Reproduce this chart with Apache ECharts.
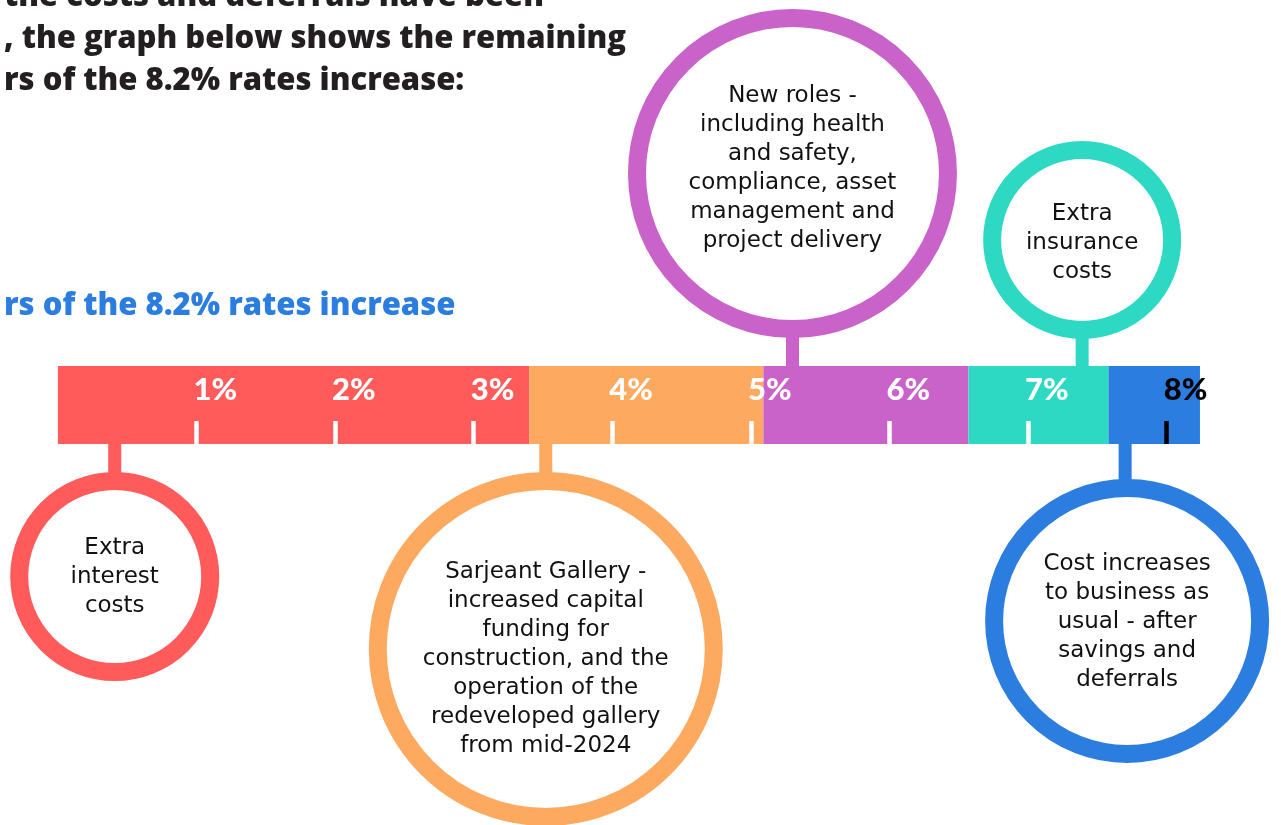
<!DOCTYPE html>
<html>
<head>
<meta charset="utf-8">
<script src="https://cdn.jsdelivr.net/npm/echarts@6/dist/echarts.min.js"></script>
<style>
html,body{margin:0;padding:0;background:#fff;}
#c{width:1281px;height:825px;}
</style>
</head>
<body>
<div id="c"></div>
<script>
// ---- data ----
const titleLines = ['the costs and deferrals have been', ', the graph below shows the remaining', 'rs of the 8.2% rates increase:'];
const subtitle = 'rs of the 8.2% rates increase';
const categories = ['Extra interest costs', 'Sarjeant Gallery', 'New roles', 'Extra insurance costs', 'Cost increases to business as usual'];
const values = [3.4, 1.69, 1.48, 1.01, 0.66];
const tickValues = [1, 2, 3, 4, 5, 6, 7, 8];
const tickLabels = ['1%', '2%', '3%', '4%', '5%', '6%', '7%', '8%'];
const circleTexts = [
  'Extra\ninterest\ncosts',
  'Sarjeant Gallery -\nincreased capital\nfunding for\nconstruction, and the\noperation of the\nredeveloped gallery\nfrom mid-2024',
  'New roles -\nincluding health\nand safety,\ncompliance, asset\nmanagement and\nproject delivery',
  'Extra\ninsurance\ncosts',
  'Cost increases\nto business as\nusual - after\nsavings and\ndeferrals'
];

// ---- styles / layout ----
const colors = ['#FF5B5B', '#FDAA60', '#C962C9', '#2ED9C3', '#2B7DE0'];
const PX_PER = 138.6;
const AXIS_MAX = 8.24;
const GRID = { left: 57.9, top: 366, height: 78 };
// anchor: value on the % scale where the connector sits
const ann = [
  { anchor: 0.41, side: 1, gap: 28, r: 104.5, dx: 0, ty: 1 },
  { anchor: 3.52, side: 1, gap: 28, r: 177, dx: 0, ty: 10 },
  { anchor: 5.30, side: -1, gap: 28, r: 164.5, dx: 0, ty: -5 },
  { anchor: 7.39, side: -1, gap: 27, r: 99, dx: 0, ty: 3 },
  { anchor: 7.70, side: 1, gap: 35, r: 142, dx: 2, ty: 1.5 }
];
const RING = 18;
const tickFont = 'Lato';
const headFont = '"Open Sans"';
const bodyFont = '"DejaVu Sans"';

const chart = echarts.init(document.getElementById('c'));

const tickIdxWhite = tickValues.slice(0, 7);
const tickIdxBlack = tickValues.slice(7);
const labelFor = v => tickLabels[tickValues.indexOf(v)] || '';

function mkAxis(vals, color) {
  return {
    type: 'value', min: 0, max: AXIS_MAX, interval: 1, position: 'bottom', z: 10,
    axisLine: { show: false }, splitLine: { show: false },
    axisTick: { show: true, inside: true, length: 23, customValues: vals, lineStyle: { color: color, width: 4.5 } },
    axisLabel: {
      show: true, inside: true, customValues: vals, margin: 54, verticalAlign: 'middle', align: 'left',
      padding: [0, 0, 0, -3],
      formatter: v => labelFor(v), color: color,
      fontFamily: tickFont, fontWeight: 900, fontSize: 31
    }
  };
}

const option = {
  animation: false,
  backgroundColor: '#fff',
  title: [
    { text: titleLines.join('\n'), left: -1, top: -29,
      textStyle: { fontFamily: headFont, fontWeight: 800, fontSize: 31, lineHeight: 42, color: '#231F20' } },
    { text: subtitle, left: -1, top: 286,
      textStyle: { fontFamily: headFont, fontWeight: 800, fontSize: 31, color: '#2B7DE0' } }
  ],
  grid: { left: GRID.left, top: GRID.top, height: GRID.height, width: AXIS_MAX * PX_PER },
  xAxis: [mkAxis(tickIdxWhite, '#FFFFFF'), mkAxis(tickIdxBlack, '#000000')],
  yAxis: { type: 'category', data: ['rates'], show: false },
  series: categories.map((name, i) => ({
    name: name, type: 'bar', stack: 'total', barWidth: '100%',
    data: [values[i]], itemStyle: { color: colors[i] }, z: 2
  }))
};
chart.setOption(option);

// annotation circles, anchored through the axis scale
const barTop = GRID.top, barBot = GRID.top + GRID.height;
const graphics = [];
ann.forEach((a, i) => {
  const x = chart.convertToPixel({ xAxisIndex: 0 }, a.anchor);
  const edge = a.side > 0 ? barBot : barTop;
  const ringEdge = edge + a.side * a.gap;
  const cy = ringEdge + a.side * a.r;
  const cx = x + a.dx;
  graphics.push({
    type: 'rect', z: 50,
    shape: { x: x - 6.5, y: Math.min(edge, ringEdge + a.side * 4), width: 13, height: a.gap + 4 },
    style: { fill: colors[i] }
  });
  graphics.push({
    type: 'circle', z: 51,
    shape: { cx: cx, cy: cy, r: a.r - RING / 2 },
    style: { fill: '#fff', stroke: colors[i], lineWidth: RING }
  });
  graphics.push({
    type: 'text', z: 52,
    style: {
      text: circleTexts[i], x: cx, y: cy + a.ty, textAlign: 'center', textVerticalAlign: 'middle',
      font: '23px ' + bodyFont, lineHeight: 29, fill: '#111'
    }
  });
});
chart.setOption({ graphic: graphics });
</script>
</body>
</html>
